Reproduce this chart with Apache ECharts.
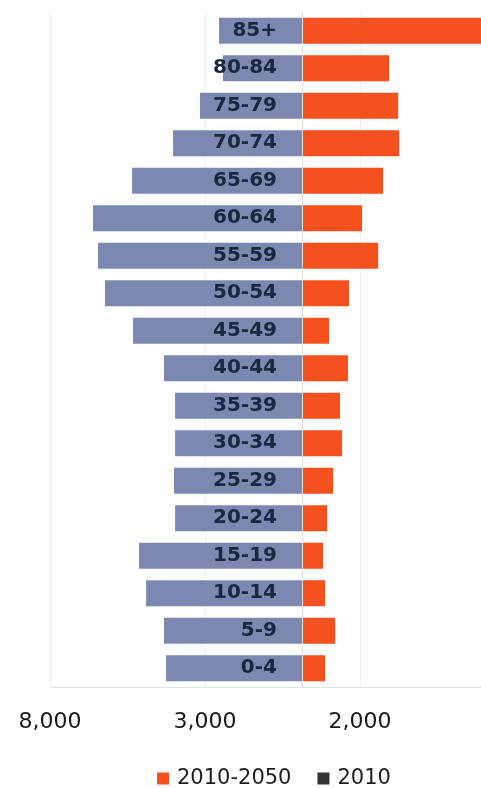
<!DOCTYPE html>
<html>
<head>
<meta charset="utf-8">
<script src="https://cdn.jsdelivr.net/npm/echarts@6/dist/echarts.min.js"></script>
<style>
html,body{margin:0;padding:0;background:#fff;}
#chart{width:481px;height:788px;}
</style>
</head>
<body>
<div id="chart"></div>
<script>
// Age groups, bottom to top
const categories = ['0-4','5-9','10-14','15-19','20-24','25-29','30-34','35-39','40-44','45-49','50-54','55-59','60-64','65-69','70-74','75-79','80-84','85+'];
// 2010 population (drawn to the left)
const pop2010 = [863,876,990,1035,806,813,806,806,876,1073,1251,1295,1327,1079,819,648,502,527];
// Change 2010-2050 (drawn to the right)
const change20102050 = [146,210,146,133,159,197,254,241,292,171,298,483,381,514,616,610,552,1140];
// Bottom axis tick labels as printed
const tickLabels = ['8,000','3,000','2,000'];

const chart = echarts.init(document.getElementById('chart'), null, {renderer:'canvas'});
const font = 'DejaVu Sans';
chart.setOption({
  animation:false,
  backgroundColor:'#ffffff',
  grid:{left:50, right:0, top:12, bottom:101, containLabel:false, outerBoundsMode:'none'},
  xAxis:[
    {type:'value', min:-1600, max:1136, show:true,
     axisLine:{show:false}, axisTick:{show:false}, axisLabel:{show:false}, splitLine:{show:false}},
    {type:'value', min:0, max:2.78, interval:1, position:'bottom',
     axisLine:{show:true, onZero:false, lineStyle:{color:'#e2e2e2'}},
     axisTick:{show:false},
     splitLine:{show:true, lineStyle:{color:'#f0f0f0'}},
     axisLabel:{show:true, margin:24, fontFamily:font, fontSize:22, color:'#1a1a1a',
       showMaxLabel:false,
       formatter:function(v){ return Number.isInteger(v) && tickLabels[v] !== undefined ? tickLabels[v] : ''; }}
    }
  ],
  yAxis:{type:'category', data:categories, z:10, position:'left', offset:-252,
    axisLine:{show:true, onZero:false, lineStyle:{color:'#dcdcdc'}},
    axisTick:{show:false},
    splitLine:{show:false},
    axisLabel:{margin:25, fontFamily:font, fontSize:20, fontWeight:'bold', color:'#1b2640'}
  },
  legend:{
    data:[{name:'2010-2050'},{name:'2010', itemStyle:{color:'#333333'}}],
    left:152, top:763, icon:'rect', itemWidth:12, itemHeight:12, itemGap:26,
    textStyle:{fontFamily:font, fontSize:21, color:'#1e1e1e', padding:[0,0,0,3]}
  },
  series:[
    {name:'2010-2050', type:'bar', stack:'total', xAxisIndex:0, barWidth:26,
     itemStyle:{color:'#f4511f'}, data:change20102050},
    {name:'2010', type:'bar', stack:'total', xAxisIndex:0, barWidth:26,
     itemStyle:{color:'#7d88b0'}, data:pop2010.map(v => -v)}
  ]
});
</script>
</body>
</html>
